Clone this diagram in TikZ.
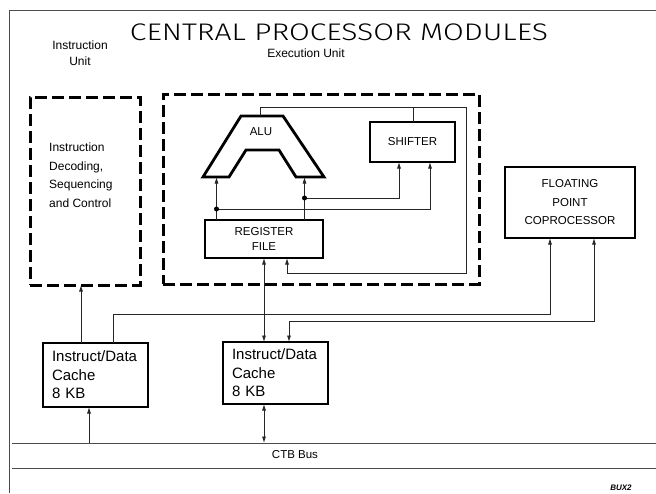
\documentclass[tikz,border=0pt]{standalone}
\usepackage{fontspec}
\setmainfont{Liberation Sans}
\newfontfamily\titlefont{Fira Sans Light}
\usetikzlibrary{arrows.meta}
\begin{document}
\begin{tikzpicture}[x=1pt,y=-1pt,
  wire/.style={line width=0.8pt, draw=black!85},
  arr/.style={-{Latex[length=6.5pt,width=4pt]}},
  darr/.style={{Latex[length=6.5pt,width=4pt]}-{Latex[length=6.5pt,width=4pt]}},
  thickbox/.style={draw, line width=2.6pt, inner sep=0pt, outer sep=0pt},
  dashbox/.style={draw, line width=3pt, dash pattern=on 12pt off 5pt, inner sep=0pt, outer sep=0pt},
  lbl/.style={font=\fontsize{12}{16}\selectfont, inner sep=0pt, align=center},
  capt/.style={font=\fontsize{11.5}{15}\selectfont, inner sep=0pt, align=center},
  cachebox/.style={thickbox, minimum width=105pt, text width=87pt, inner xsep=9pt, align=left,
                   font=\fontsize{15}{18.5}\selectfont},
  dotpt/.style={circle, fill=black, inner sep=0pt, minimum size=5pt},
  frameline/.style={line width=0.7pt, draw=black!70}
]
\useasboundingbox (0,0) rectangle (656,493);
\fill[white] (0,0) rectangle (656,493);

% frame
\coordinate (frTL) at (9,10);
\coordinate (frTR) at (656,10);
\coordinate (frBL) at (9,493);
\draw[frameline] (frBL) -- (frTL) -- (frTR);

% title
\node[inner sep=0pt, anchor=base, text depth=0pt] (title) at (339,40.5)
  {\resizebox{418pt}{\height}{\fontsize{24}{30}\selectfont\titlefont CENTRAL PROCESSOR MODULES}};

% unit labels
\node[lbl] (iulabel) at (80,53) {Instruction\\Unit};
\node[lbl] (eulabel) at (306,53) {Execution Unit};

% dashed unit boxes
\node[dashbox, minimum width=110pt, minimum height=188pt] (instr) at (85,191) {};
\node[dashbox, minimum width=316pt, minimum height=190pt] (exec) at (321,189) {};
\node[anchor=north west, inner sep=0pt, align=left, font=\fontsize{12}{18.5}\selectfont]
  (instrtext) at (49,143) {Instruction\\Decoding,\\Sequencing\\and Control};

% ALU shape
\draw[line width=2.8pt, line join=miter] (241,116) -- (283,116) -- (324,177) -- (296,177)
  -- (279,150) -- (246,150) -- (229,177) -- (203,177) -- cycle;
\node[capt] (alu) at (261,132) {ALU};
\coordinate (aluout) at (260,116);
\coordinate (aluinL) at (216.5,177);
\coordinate (aluinR) at (304.5,177);

% boxes
\node[thickbox, minimum width=85pt, minimum height=40pt, capt] (shifter) at (412.5,142) {SHIFTER};
\node[thickbox, minimum width=118pt, minimum height=38pt, capt] (regfile) at (264,239) {REGISTER\\FILE};
\node[thickbox, minimum width=130pt, minimum height=71pt, font=\fontsize{11.5}{18.5}\selectfont, align=center]
  (fpc) at (570,202.5) {FLOATING\\POINT\\COPROCESSOR};
\node[cachebox, minimum height=64pt] (cache1) at (95.5,375) {Instruct/Data\\Cache\\8 KB};
\node[cachebox, minimum height=62pt] (cache2) at (275.5,373) {Instruct/Data\\Cache\\8 KB};

% bus
\coordinate (busTL) at (12,443);
\coordinate (busTR) at (656,443);
\coordinate (busBL) at (12,468);
\coordinate (busBR) at (656,468);
\draw[frameline] (busTL) -- (busTR);
\draw[frameline] (busBL) -- (busBR);
\node[capt] (ctb) at (295,455) {CTB Bus};

% ports
\coordinate (rfTL) at (216.5,220);
\coordinate (rfTR) at (304.5,220);
\coordinate (dotL) at (216.5,209);
\coordinate (dotR) at (304.5,198);
\coordinate (shInL) at (399,162);
\coordinate (shInR) at (430,162);
\coordinate (shOut) at (413,122);
\coordinate (topwire) at (413,107);
\coordinate (rfInC) at (264,258);
\coordinate (rfInF) at (287,258);
\coordinate (c2TopA) at (264,342);
\coordinate (c2TopB) at (289,342);
\coordinate (c1TopA) at (81,343);
\coordinate (c1TopB) at (113,343);
\coordinate (iuIn) at (81,285);
\coordinate (fpInL) at (550,238);
\coordinate (fpInR) at (594,238);
\coordinate (c1Bot) at (89,407);
\coordinate (c1Bus) at (89,443);
\coordinate (c2Bot) at (264,404);
\coordinate (c2Bus) at (264,443);

% execution unit wiring
\draw[wire, arr] (aluout) -- (260,107) -- (466,107) -- (466,273) -| (rfInF);
\draw[wire] (shOut) -- (topwire);
\draw[wire, arr] (rfTL) -- (aluinL);
\draw[wire, arr] (rfTR) -- (aluinR);
\draw[wire, arr] (dotL) -| (shInR);
\draw[wire, arr] (dotR) -| (shInL);
\node[dotpt] (dL) at (dotL) {};
\node[dotpt] (dR) at (dotR) {};

% external connections
\draw[wire, darr] (rfInC) -- (c2TopA);
\draw[wire, arr] (c1TopA) -- (iuIn);
\draw[wire, arr] (c1TopB) -- (113,314) -| (fpInL);
\draw[wire, darr] (c2TopB) -- (289,321) -| (fpInR);
\draw[wire, arr] (c1Bus) -- (c1Bot);
\draw[wire, darr] (c2Bot) -- (c2Bus);

% mark
\node[inner sep=0pt, font=\fontsize{8}{9}\bfseries\itshape] (mark) at (621,488) {BUX2};
\end{tikzpicture}
\end{document}
